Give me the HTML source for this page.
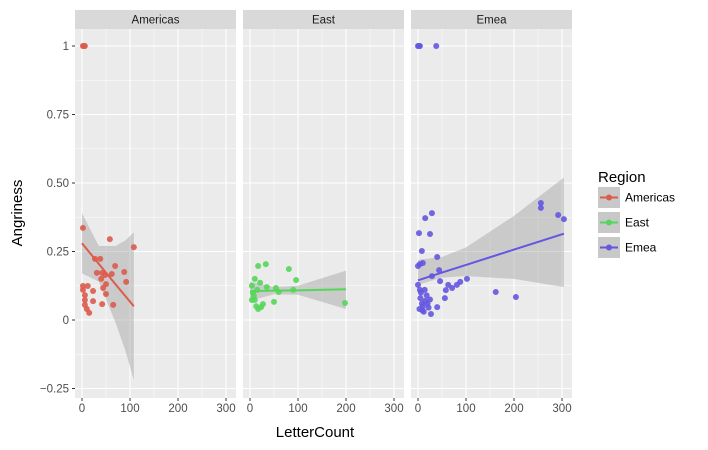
<!DOCTYPE html>
<html><head><meta charset="utf-8"><style>
body{margin:0;background:#fff;font-family:"Liberation Sans",sans-serif;}
svg{display:block}
</style></head><body>
<svg id="chart" width="708" height="450"></svg>
<script>
const panels=["Americas","East","Emea"];
const colors=["#dc5b4c","#55d65a","#6456e0"];
const americasX=[2,4,6,2,58,108,27,38,69,31,42,48,62,88,40,92,50,44,50,23,2,12,2,6,23,42,65,6,6,10,15];
const americasY=[1,1,1,0.336,0.295,0.266,0.223,0.223,0.197,0.172,0.172,0.164,0.168,0.175,0.15,0.139,0.131,0.117,0.095,0.106,0.124,0.124,0.11,0.091,0.069,0.058,0.055,0.073,0.055,0.04,0.026];
const eastX=[4,10,17,33,21,35,15,8,4,10,13,17,23,54,60,50,81,96,90,198,6,27];
const eastY=[0.125,0.15,0.197,0.204,0.136,0.12,0.11,0.088,0.073,0.073,0.05,0.04,0.047,0.117,0.102,0.066,0.186,0.146,0.11,0.062,0.1,0.058];
const emeaX=[0,2,4,38,256,256,292,304,29,15,2,25,8,40,4,10,0,44,102,88,81,71,58,63,46,29,56,40,162,204,27,0,4,5,8,10,12,15,18,20,22,3,6,14,25,9];
const emeaY=[1,1,1,1,0.427,0.409,0.383,0.368,0.39,0.372,0.317,0.314,0.252,0.23,0.204,0.208,0.197,0.182,0.15,0.139,0.128,0.117,0.109,0.128,0.142,0.16,0.08,0.047,0.102,0.084,0.022,0.128,0.11,0.08,0.06,0.05,0.03,0.07,0.09,0.06,0.045,0.04,0.1,0.11,0.075,0.035];
const fitXs=[[0,35,70,90,108],[0,50,100,200],[0,50,100,200,304]];
const fitYs=[[0.28,0.205,0.13,0.088,0.05],[0.105,0.107,0.108,0.112],[0.145,0.173,0.201,0.257,0.315]];
const ciHi=[[0.39,0.27,0.27,0.29,0.32],[0.14,0.12,0.125,0.18],[0.22,0.23,0.265,0.38,0.52]];
const ciLo=[[0.17,0.14,-0.01,-0.11,-0.22],[0.07,0.094,0.092,0.04],[0.128,0.155,0.16,0.15,0.12]];
const xTicks=[0,100,200,300];
const yTicks=[-0.25,0,0.25,0.5,0.75,1];
const yTickLabels=["\u22120.25","0","0.25","0.50","0.75","1"];
const legendLabels=["Americas","East","Emea"];

const NS="http://www.w3.org/2000/svg";
const svg=document.getElementById("chart");
function mk(tag,attrs,parent){const e=document.createElementNS(NS,tag);for(const k in attrs)e.setAttribute(k,attrs[k]);(parent||svg).appendChild(e);return e;}
const panelLeft=[75,243,411],panelW=161,plotTop=29,plotBottom=398;
const xScale=(i,v)=>panelLeft[i]+7+v*0.48;
const yScale=v=>320-v*274;
const xs=[americasX,eastX,emeaX],ys=[americasY,eastY,emeaY];

panels.forEach((p,i)=>{
  const L=panelLeft[i];
  const g=mk("g",{});
  
  
  mk("rect",{x:L,y:plotTop,width:panelW,height:plotBottom-plotTop,fill:"#ebebeb"},g);
  const strip=mk("rect",{x:L,y:10,width:panelW,height:19,fill:"#d9d9d9"},g);
  
  
  const st=mk("text",{x:L+panelW/2,y:23.5,"text-anchor":"middle","font-size":"11.5",fill:"#1a1a1a"},g);st.textContent=p;
  
  
  [50,150,250].forEach(v=>mk("line",{x1:xScale(i,v),x2:xScale(i,v),y1:plotTop,y2:plotBottom,stroke:"#fff","stroke-width":0.5},g));
  [-0.125,0.125,0.375,0.625,0.875].forEach(v=>mk("line",{x1:L,x2:L+panelW,y1:yScale(v),y2:yScale(v),stroke:"#fff","stroke-width":0.5},g));
  xTicks.forEach(v=>{const x=xScale(i,v);mk("line",{x1:x,x2:x,y1:plotTop,y2:plotBottom,stroke:"#fff","stroke-width":1.1},g);
    mk("line",{x1:x,x2:x,y1:plotBottom,y2:plotBottom+3,stroke:"#333"},g);
    const t=mk("text",{x:x,y:plotBottom+14,"text-anchor":"middle","font-size":"11.5",fill:"#4d4d4d"},g);t.textContent=v;
    
    });
  yTicks.forEach(v=>mk("line",{x1:L,x2:L+panelW,y1:yScale(v),y2:yScale(v),stroke:"#fff","stroke-width":1.1},g));
  const fx=fitXs[i];
  let d="M"+fx.map((v,k)=>xScale(i,v)+","+yScale(ciHi[i][k])).join("L");
  d+="L"+fx.map((v,k)=>xScale(i,v)+","+yScale(ciLo[i][k])).reverse().join("L")+"Z";
  const rib=mk("path",{d:d,fill:"#999","fill-opacity":0.4},g);
  
  
  xs[i].forEach((v,k)=>{const c=mk("circle",{cx:xScale(i,v),cy:yScale(ys[i][k]),r:3,fill:colors[i],"fill-opacity":0.9},g);
    
    });
  const ln=mk("polyline",{points:fx.map((v,k)=>xScale(i,v)+","+yScale(fitYs[i][k])).join(" "),fill:"none",stroke:colors[i],"stroke-width":2},g);
  
  
});
yTicks.forEach((v,k)=>{const y=yScale(v);mk("line",{x1:72,x2:75,y1:y,y2:y,stroke:"#333"});
  const t=mk("text",{x:69,y:y+4,"text-anchor":"end","font-size":"11.5",fill:"#4d4d4d"});t.textContent=yTickLabels[k];
  
  });
const xt=mk("text",{x:315,y:437,"text-anchor":"middle","font-size":"15",fill:"#000"});xt.textContent="LetterCount";


const yt=mk("text",{x:22,y:213,"text-anchor":"middle","font-size":"15",fill:"#000",transform:"rotate(-90 22 213)"});yt.textContent="Angriness";


const lt=mk("text",{x:598,y:182,"font-size":"15",fill:"#000"});lt.textContent="Region";


legendLabels.forEach((n,k)=>{const y=187+k*25;
  const g=mk("g",{});
  
  
  mk("rect",{x:598,y:y,width:22,height:21,fill:"#c8c8c8"},g);
  mk("line",{x1:600,x2:618,y1:y+10.5,y2:y+10.5,stroke:colors[k],"stroke-width":2},g);
  mk("circle",{cx:609,cy:y+10.5,r:3,fill:colors[k]},g);
  const t=mk("text",{x:625,y:y+14.5,"font-size":"12",fill:"#000"},g);t.textContent=n;});
</script>
</body></html>
